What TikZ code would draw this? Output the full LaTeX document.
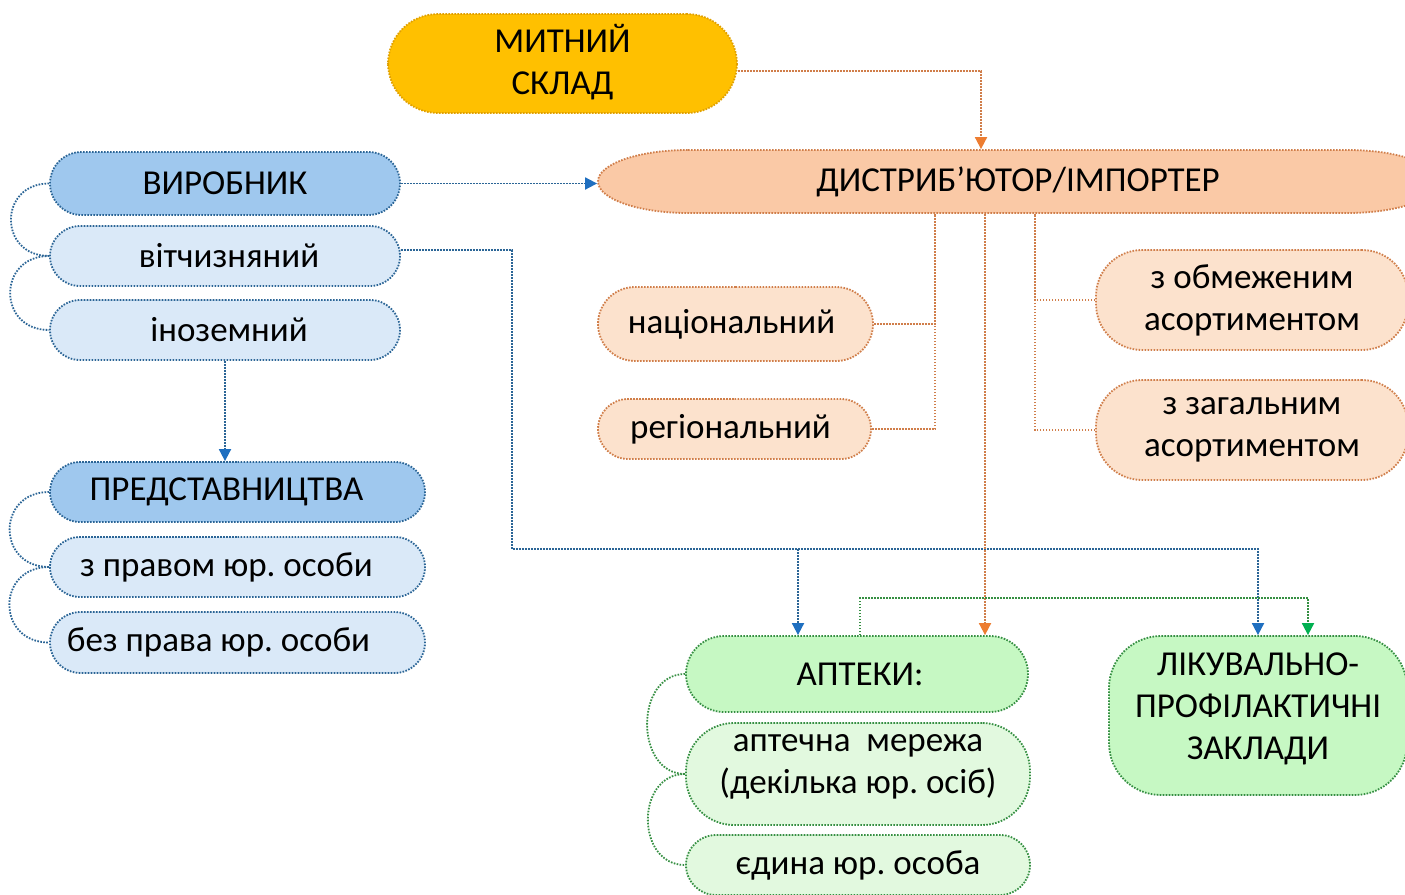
\documentclass[tikz,border=0pt]{standalone}
\usepackage{fontspec}
\setmainfont{Carlito}
\usetikzlibrary{shapes.misc,arrows.meta,calc}
\definecolor{yelF}{HTML}{FFC000}
\definecolor{yelB}{HTML}{E0A000}
\definecolor{blueM}{HTML}{9FC8EE}
\definecolor{blueL}{HTML}{DAE9F8}
\definecolor{blueB}{HTML}{2B6596}
\definecolor{peachD}{HTML}{FAC9A6}
\definecolor{peachL}{HTML}{FCE2CD}
\definecolor{orB}{HTML}{D07E4A}
\definecolor{greenM}{HTML}{C6F8C3}
\definecolor{greenL}{HTML}{E2F9DF}
\definecolor{greenB}{HTML}{358F42}
\definecolor{arB}{HTML}{1F6FC0}
\definecolor{arO}{HTML}{ED7D31}
\definecolor{arG}{HTML}{00B050}
\frenchspacing
\begin{document}
\begin{tikzpicture}[x=1pt,y=-1pt,
  dotline/.style={line width=1.8pt, dash pattern=on 1.6pt off 1.4pt},
  box/.style={dotline, align=center, inner sep=0pt, font=\fontsize{35}{42}\selectfont},
  pill/.style={box, rounded rectangle},
  rbox/.style={box, rectangle, rounded corners=#1},
  bdark/.style={draw=blueB, fill=blueM},
  blight/.style={draw=blueB, fill=blueL},
  plight/.style={draw=orB, fill=peachL},
  gdark/.style={draw=greenB, fill=greenM},
  glight/.style={draw=greenB, fill=greenL},
  bconn/.style={draw=blueB, dotline},
  oconn/.style={draw=orB, dotline},
  gconn/.style={draw=greenB, dotline},
  btip/.style={-{Triangle[width=12pt,length=12pt,fill=arB,color=arB]}},
  otip/.style={-{Triangle[width=12pt,length=12pt,fill=arO,color=arO]}},
  gtip/.style={-{Triangle[width=12pt,length=12pt,fill=arG,color=arG]}}
]
\useasboundingbox (0,0) rectangle (1405,894);
\fill[white] (0,0) rectangle (1405,894);

% distributor shape
\path[draw=orB, fill=peachD, dotline] (688,150) -- (1348,150)
  arc[start angle=-90, end angle=90, x radius=90, y radius=31.5]
  -- (688,213) arc[start angle=90, end angle=270, x radius=90, y radius=31.5] -- cycle;
\node[box, draw=none] (dist) at (1018,181.5) [minimum width=840, minimum height=63] {ДИСТРИБ’ЮТОР/ІМПОРТЕР};

\node[rbox=50, draw=yelB, fill=yelF, minimum width=349, minimum height=99, text depth=8pt] (mitny) at (562.5,63.5) {МИТНИЙ\\СКЛАД};

\node[pill, bdark, minimum width=350, minimum height=63] (virob) at (225,183.5) {ВИРОБНИК};
\node[pill, blight, minimum width=350, minimum height=60] (vitch) at (225,256) {\hspace*{8pt}вітчизняний};
\node[pill, blight, minimum width=350, minimum height=60] (inoz) at (225,330) {\hspace*{8pt}іноземний};

\node[pill, bdark, minimum width=375, minimum height=60] (pred) at (237.5,492) {\hspace*{-22pt}ПРЕДСТАВНИЦТВА};
\node[pill, blight, minimum width=375, minimum height=60] (zpr) at (237.5,567) {\hspace*{-22pt}з правом юр. особи};
\node[pill, blight, minimum width=375, minimum height=61] (bez) at (237.5,642.5) {\hspace*{-38pt}без права юр. особи};

\node[pill, plight, minimum width=275, minimum height=74] (nat) at (735.5,324) {\hspace*{-8pt}національний};
\node[pill, plight, minimum width=273, minimum height=60] (reg) at (734.5,429) {\hspace*{-8pt}регіональний};
\node[rbox=46, plight, minimum width=312, minimum height=100] (obm) at (1252,300) {з обмеженим\\асортиментом};
\node[rbox=46, plight, minimum width=312, minimum height=100] (zag) at (1252,430) {з загальним\\асортиментом};

\node[pill, gdark, minimum width=342, minimum height=76] (apt) at (857,674) {\hspace*{6pt}АПТЕКИ:};
\node[rbox=48, glight, minimum width=344, minimum height=102, text depth=21pt] (mer) at (858,774) {аптечна~~мережа\\(декілька юр. осіб)};
\node[pill, glight, minimum width=344, minimum height=60] (yed) at (858,865) {єдина юр. особа};
\node[rbox=52, gdark, minimum width=298, minimum height=159, text depth=18pt] (lpz) at (1258,715.5) {ЛІКУВАЛЬНО-\\ПРОФІЛАКТИЧНІ\\ЗАКЛАДИ};

% coordinates
\coordinate (d1) at ($(dist.south)+(-83,0)$);
\coordinate (d2) at ($(dist.south)+(-33,0)$);
\coordinate (d3) at ($(dist.south)+(17,0)$);
\coordinate (bus) at (512,549);
\coordinate (aptb) at ($(apt.north)+(-59,0)$);
\coordinate (gt) at ($(lpz.north)+(50,0)$);
\coordinate (mt) at ($(dist.north)+(-37,0)$);

% connectors
\draw[oconn, otip] ($(mitny.east)+(0,7.5)$) -| (mt);
\draw[bconn, btip] (virob.east) -- (virob.east -| dist.west);
\draw[bconn, btip] ($(vitch.east)+(0,-6)$) -| (bus) -| (lpz.north);
\draw[bconn, btip] (bus -| aptb) -- (aptb);
\draw[bconn, btip] (inoz.south) -- (inoz.south |- pred.north);

\draw[oconn] (nat.east) -| (d1);
\draw[oconn] (reg.east) -| (d1);
\draw[oconn] (obm.west) -| (d3);
\draw[oconn] (zag.west) -| (d3);
\draw[oconn, otip] (d2) -- (d2 |- apt.north);

\draw[gconn, gtip] ($(apt.north)+(3,0)$) -- ++(0,-37) -| (gt);

% side arcs
\draw[bconn] (virob.west) to[out=180,in=180,looseness=1.8] (vitch.west);
\draw[bconn] (vitch.west) to[out=180,in=180,looseness=1.8] (inoz.west);
\draw[bconn] (pred.west) to[out=180,in=180,looseness=1.8] (zpr.west);
\draw[bconn] (zpr.west) to[out=180,in=180,looseness=1.8] (bez.west);
\draw[gconn] (apt.west) to[out=180,in=180,looseness=1.3] (mer.west);
\draw[gconn] (mer.west) to[out=180,in=180,looseness=1.4] (yed.west);
\end{tikzpicture}
\end{document}
